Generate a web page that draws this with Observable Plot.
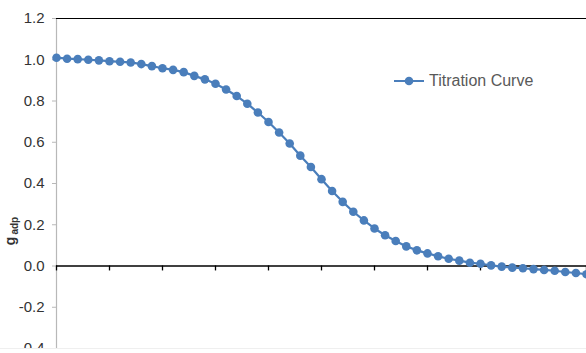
<!DOCTYPE html>
<html>
<head>
<meta charset="utf-8">
<script src="https://cdn.jsdelivr.net/npm/d3@7"></script>
<script src="https://cdn.jsdelivr.net/npm/@observablehq/plot@0.6"></script>
<style>
  html, body { margin: 0; padding: 0; background: #fff; }
  #wrap { position: relative; width: 586px; height: 348px; overflow: hidden; border-bottom: 1px solid #efefef; font-family: "Liberation Sans", Arial, sans-serif; }
  #legend { position: absolute; left: 393px; top: 72px; display: flex; align-items: center; font-size: 16px; color: #595959; white-space: nowrap; }
  #legend svg { margin-right: 4px; }
</style>
</head>
<body>
<div id="wrap">
  <div id="chart"></div>
  <div id="legend"><svg width="32" height="12"><line x1="1" y1="6" x2="31" y2="6" stroke="#4a7ebb" stroke-width="2"/><circle cx="16" cy="6" r="4.3" fill="#4a7ebb"/></svg><span>Titration Curve</span></div>
</div>
<script>
const seriesName = "Titration Curve";
const xValues = [0,1,2,3,4,5,6,7,8,9,10,11,12,13,14,15,16,17,18,19,20,21,22,23,24,25,26,27,28,29,30,31,32,33,34,35,36,37,38,39,40,41,42,43,44,45,46,47,48,49,50];
const gValues = [1.010,1.005,1.003,1.000,0.997,0.993,0.990,0.987,0.979,0.969,0.959,0.951,0.940,0.922,0.905,0.884,0.856,0.824,0.787,0.744,0.698,0.647,0.594,0.535,0.480,0.421,0.364,0.311,0.263,0.221,0.182,0.149,0.121,0.095,0.076,0.061,0.047,0.035,0.026,0.016,0.011,0.003,-0.003,-0.008,-0.011,-0.015,-0.019,-0.023,-0.029,-0.034,-0.040];
const yTicks = [-0.4,-0.2,0.0,0.2,0.4,0.6,0.8,1.0,1.2];
const xTicks = [0,5,10,15,20,25,30,35,40,45,50];

const data = xValues.map((x, i) => ({x, g: gValues[i]}));
const color = "#4a7ebb";

const chart = Plot.plot({
  width: 586,
  height: 353,
  marginLeft: 56,
  marginRight: 0,
  marginTop: 18,
  marginBottom: 5,
  style: {fontFamily: "Liberation Sans, Arial, sans-serif", fontSize: "15px", color: "#333", background: "#fff", overflow: "visible"},
  x: {domain: [0, 50], axis: null},
  y: {domain: [-0.4, 1.2], axis: null},
  marks: [
    Plot.ruleX([0], {stroke: "#b8b8b8", strokeWidth: 1.2}),
    Plot.axisY({ticks: yTicks, tickSize: 4, tickPadding: 8, stroke: "#b8b8b8", fill: "#333", tickFormat: d => d.toFixed(1), fontSize: 15, label: null}),
    Plot.ruleY([1.2], {stroke: "#000", strokeWidth: 1.2}),
    Plot.ruleY([0], {stroke: "#000", strokeWidth: 1.6}),
    Plot.ruleX(xTicks, {x: d => d, y1: 0, y2: -0.024, stroke: "#000", strokeWidth: 1.3}),
    Plot.line(data, {x: "x", y: "g", stroke: color, strokeWidth: 2.2}),
    Plot.dot(data, {x: "x", y: "g", r: 4.3, fill: color, stroke: "none", title: () => seriesName})
  ]
});
document.getElementById("chart").appendChild(chart);

// y-axis title: g with subscript "adp"
const svg = d3.select(chart);
const t = svg.append("text")
  .attr("transform", "translate(14.5,231) rotate(-90)")
  .attr("font-family", "Liberation Sans, Arial, sans-serif")
  .attr("font-weight", "bold")
  .attr("fill", "#333");
t.append("tspan").attr("font-size", 14).text("g");
t.append("tspan").attr("font-size", 10).attr("dx", 2).attr("dy", 3).text("adp");
</script>
</body>
</html>
